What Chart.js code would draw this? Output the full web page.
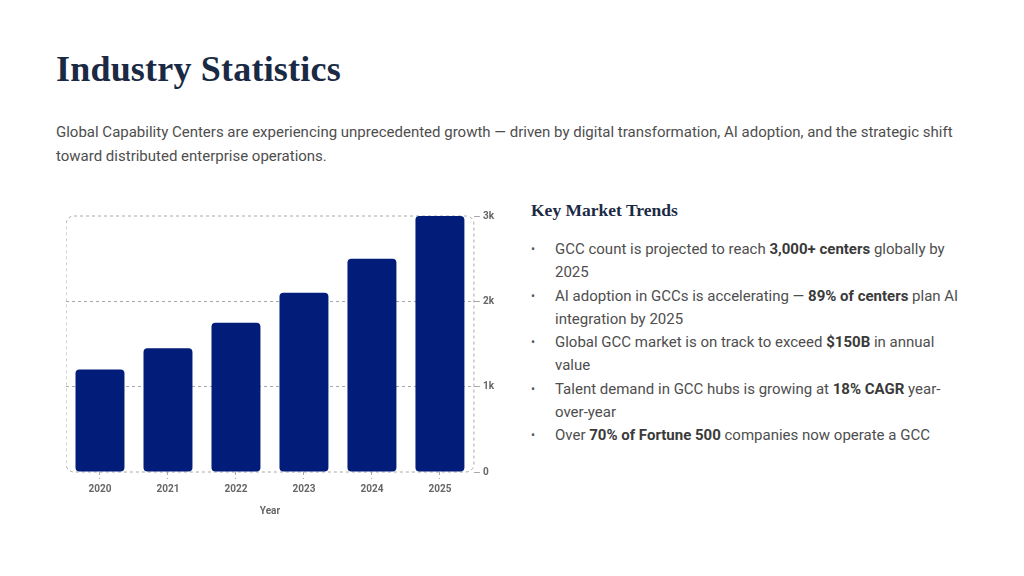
<!DOCTYPE html>
<html>
<head>
<meta charset="utf-8">
<script src="https://cdn.jsdelivr.net/npm/chart.js@4/dist/chart.umd.min.js"></script>
<style>
  html, body { margin: 0; padding: 0; background: #fff; }
  body { width: 1024px; height: 576px; position: relative; overflow: hidden; font-family: Roboto, sans-serif; color: #4a4a4a; }
  h1 { position: absolute; left: 56px; top: 48px; margin: 0; font-family: "Liberation Serif", serif; font-weight: bold; font-size: 36px; color: #1b2a44; letter-spacing: 0.2px; }
  .intro { position: absolute; left: 56px; top: 120px; width: 920px; margin: 0; font-size: 15px; line-height: 24px; color: #4e4e4e; }
  .chart-box { position: absolute; left: 66px; top: 207px; width: 431px; height: 314px; }
  .trends { position: absolute; left: 531px; top: 200px; width: 440px; }
  .trends h2 { margin: 0 0 17px 0; font-family: "Liberation Serif", serif; font-weight: bold; font-size: 17.5px; color: #1b2a44; }
  .trends ul { list-style: none; margin: 0; padding: 0; }
  .trends li { position: relative; padding-left: 24px; font-size: 15px; line-height: 23.3px; color: #4e4e4e; }
  .trends li::before { content: "•"; position: absolute; left: 0; top: 0; font-size: 12px; color: #555; }
  .trends b { color: #3a3a3a; }
</style>
</head>
<body>
<h1>Industry Statistics</h1>
<p class="intro">Global Capability Centers are experiencing unprecedented growth — driven by digital transformation, AI adoption, and the strategic shift toward distributed enterprise operations.</p>
<div class="chart-box"><canvas id="gcc-chart"></canvas></div>
<div class="trends">
  <h2>Key Market Trends</h2>
  <ul>
    <li>GCC count is projected to reach <b>3,000+ centers</b> globally by 2025</li>
    <li>AI adoption in GCCs is accelerating — <b>89% of centers</b> plan AI integration by 2025</li>
    <li>Global GCC market is on track to exceed <b>$150B</b> in annual value</li>
    <li>Talent demand in GCC hubs is growing at <b>18% CAGR</b> year-over-year</li>
    <li>Over <b>70% of Fortune 500</b> companies now operate a GCC</li>
  </ul>
</div>
<script>
var years = ['2020', '2021', '2022', '2023', '2024', '2025'];
var gccCounts = [1200, 1450, 1750, 2100, 2500, 3000];
var yMax = 3000;
var yStep = 1000;

// dashed rounded frame round the plot area
var roundFrame = {
  id: 'roundFrame',
  beforeDatasetsDraw: function (chart) {
    var a = chart.chartArea;
    var c = chart.ctx;
    c.save();
    c.strokeStyle = '#a8a8a8';
    c.lineWidth = 1;
    c.setLineDash([3, 3]);
    c.beginPath();
    c.roundRect(a.left, a.top, a.right - a.left, a.bottom - a.top, 8);
    c.stroke();
    c.restore();
  }
};

Chart.defaults.font.family = 'Roboto, sans-serif';
Chart.defaults.color = '#666';

var ctx = document.getElementById('gcc-chart').getContext('2d');
var myChart = new Chart(ctx, {
  type: 'bar',
  data: {
    labels: years,
    datasets: [{
      label: 'GCC count',
      data: gccCounts,
      backgroundColor: '#021c7a',
      borderRadius: 4,
      borderSkipped: false
    }]
  },
  options: {
    responsive: true,
    maintainAspectRatio: false,
    animation: false,
    layout: { padding: { left: 0, right: 0, top: 6, bottom: 0 } },
    scales: {
      x: {
        grid: {
          offset: false,
          drawOnChartArea: false,
          drawTicks: true,
          tickLength: 7,
          tickColor: '#a8a8a8',
          tickBorderDash: [3, 3]
        },
        border: { display: false },
        ticks: { font: { size: 10, weight: 'bold' }, color: '#666', padding: 4 },
        title: { display: true, text: 'Year', font: { size: 10, weight: 'bold' }, color: '#666', padding: { top: 6 } }
      },
      y: {
        position: 'right',
        beginAtZero: true,
        max: yMax,
        ticks: {
          stepSize: yStep,
          font: { size: 10, weight: 'bold' },
          color: '#666',
          padding: 3,
          callback: function (v) { return v === 0 ? '0' : (v / 1000) + 'k'; }
        },
        grid: {
          color: function (c) { return (c.tick && (c.tick.value === 0 || c.tick.value === yMax)) ? 'rgba(0,0,0,0)' : '#a8a8a8'; },
          borderDash: [3, 3],
          tickColor: '#a8a8a8',
          tickLength: 6
        },
        border: { display: false, dash: [3, 3] }
      }
    },
    plugins: {
      legend: { display: false },
      tooltip: { enabled: false }
    }
  },
  plugins: [roundFrame]
});
</script>
</body>
</html>
